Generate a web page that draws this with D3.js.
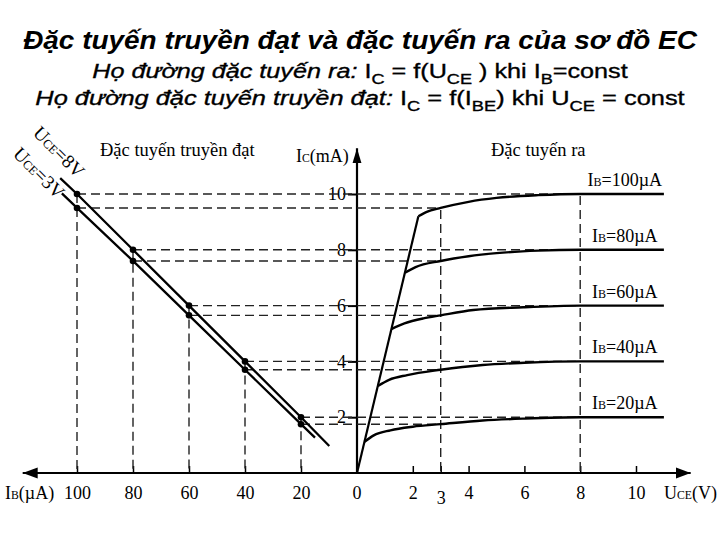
<!DOCTYPE html>
<html><head><meta charset="utf-8">
<script src="https://cdn.jsdelivr.net/npm/d3@7"></script>
<style>
body{margin:0;background:#fff;}
svg{display:block;}
</style></head>
<body>
<svg id="c" width="720" height="540"></svg>
<script>
// ---------- data ----------
const ibTicks = [100, 80, 60, 40, 20];
const uceTicks = [0, 2, 3, 4, 6, 8, 10];
const icTicks = [2, 4, 6, 8, 10];

// transfer characteristic points (IB µA -> IC mA)
const ibPoints = [100, 80, 60, 40, 20];
const icAt8V = [10, 8, 6, 4, 2];
const icAt3V = [9.5, 7.6, 5.65, 3.7, 1.75];
// extended ends of the transfer lines
const line8V = [[106, 10.57], [100, 10], [80, 8], [60, 6], [40, 4], [20, 2], [9.9, 0.97]];
const line3V = [[105.4, 10.02], [100, 9.5], [80, 7.6], [60, 5.65], [40, 3.7], [20, 1.75], [15, 1.27]];

// output characteristics (UCE V -> IC mA)
const saturation = [[0, 0], [2.2, 9.2]];
const outIB100 = [[2.2, 9.2], [2.5, 9.36], [3, 9.5], [4, 9.72], [5, 9.86], [6.5, 9.96], [8, 10], [11, 10]];
const outIB80 = [[1.72, 7.18], [2.1, 7.38], [3, 7.6], [4, 7.77], [5, 7.88], [6.5, 7.97], [8, 8], [11, 8]];
const outIB60 = [[1.23, 5.16], [1.7, 5.36], [2.38, 5.54], [3, 5.65], [4.17, 5.84], [5.96, 5.94], [8, 6], [11, 6]];
const outIB40 = [[0.75, 3.12], [1.15, 3.34], [1.8, 3.51], [3, 3.7], [4.5, 3.87], [6, 3.95], [8, 4], [11, 4]];
const outIB20 = [[0.27, 1.12], [0.6, 1.35], [1.2, 1.53], [2, 1.66], [3, 1.75], [4.5, 1.88], [6, 1.95], [8, 2], [11, 2]];
const outCurves = [outIB100, outIB80, outIB60, outIB40, outIB20];
const outLabels = ["100", "80", "60", "40", "20"];
const outFlat = [10, 8, 6, 4, 2];

// ---------- scales ----------
const svg = d3.select("#c");
const xR = d3.scaleLinear().domain([0, 10]).range([357, 636]);
const xL = d3.scaleLinear().domain([0, 100]).range([357, 77]);
const y = d3.scaleLinear().domain([0, 10]).range([473, 194]);

const serif = "'Liberation Serif','Times New Roman',serif";
const sans = "'Liberation Sans',Arial,sans-serif";

// ---------- titles ----------
function fitWidth(t, left, right) {
  const bb = t.node().getBBox();
  const s = (right - left) / bb.width;
  const cx = (left + right) / 2;
  t.attr("transform", `translate(${cx},0) scale(${s},1) translate(${-cx},0)`);
}
const t1 = svg.append("text").attr("x", 360).attr("y", 49).attr("text-anchor", "middle")
  .attr("font-family", sans).attr("font-weight", "bold").attr("font-style", "italic")
  .attr("font-size", 26.5).text("Đặc tuyến truyền đạt và đặc tuyến ra của sơ đồ EC");
fitWidth(t1, 22, 697);

function subLine(yy, size, parts) {
  const t = svg.append("text").attr("x", 360).attr("y", yy).attr("text-anchor", "middle")
    .attr("font-family", sans).attr("font-size", size)
    .attr("stroke", "#000").attr("stroke-width", 0.35);
  parts.forEach(p => {
    const ts = t.append("tspan").text(p.t);
    if (p.i) ts.attr("font-style", "italic");
    if (p.s) ts.attr("font-size", size * 0.72).attr("dy", size * 0.28);
    if (p.r) ts.attr("dy", -size * 0.28);
  });
  return t;
}
const t2 = subLine(78, 21, [
  {t: "Họ đường đặc tuyến ra: ", i: true}, {t: "I"}, {t: "C", s: true}, {t: " = f(U", r: true},
  {t: "CE", s: true}, {t: " ) khi I", r: true}, {t: "B", s: true}, {t: "=const", r: true}
]);
fitWidth(t2, 92, 628);
const t3 = subLine(105, 21, [
  {t: "Họ đường đặc tuyến truyền đạt: ", i: true}, {t: "I"}, {t: "C", s: true}, {t: " = f(I", r: true},
  {t: "BE", s: true}, {t: ") khi U", r: true}, {t: "CE", s: true}, {t: " = const", r: true}
]);
fitWidth(t3, 35, 685);

// ---------- arrows ----------
const defs = svg.append("defs");
defs.append("marker").attr("id", "arrH").attr("markerUnits", "userSpaceOnUse")
  .attr("viewBox", "0 -6 16 12").attr("refX", 15).attr("refY", 0)
  .attr("markerWidth", 16).attr("markerHeight", 12).attr("orient", "auto-start-reverse")
  .append("path").attr("d", "M0,-5.5L15,0L0,5.5Z").attr("fill", "#000");
defs.append("marker").attr("id", "arrV").attr("markerUnits", "userSpaceOnUse")
  .attr("viewBox", "0 -6 16 12").attr("refX", 15).attr("refY", 0)
  .attr("markerWidth", 16).attr("markerHeight", 12).attr("orient", "auto")
  .append("path").attr("d", "M0,-4.5L15,0L0,4.5Z").attr("fill", "#000");

// ---------- axes ----------
const axisR = d3.axisBottom(xR).tickValues(uceTicks.filter(d => d !== 0)).tickSizeInner(-7).tickSizeOuter(0).tickPadding(13);
const axisL = d3.axisBottom(xL).tickValues(ibTicks).tickSizeInner(-7).tickSizeOuter(0).tickPadding(13);
const gR = svg.append("g").attr("transform", `translate(0,${y(0)})`).call(axisR);
const gL = svg.append("g").attr("transform", `translate(0,${y(0)})`).call(axisL);
[gR, gL].forEach(g => {
  g.select(".domain").remove();
  g.selectAll("line").attr("stroke", "#000").attr("stroke-width", 1.5);
  g.selectAll("text").attr("font-family", serif).attr("font-size", 18).attr("fill", "#000");
});
gR.selectAll(".tick").filter(d => d === 3).select("text").attr("dy", "0.98em");
// zero label
svg.append("text").attr("x", xR(0)).attr("y", y(0) + 26).attr("text-anchor", "middle")
  .attr("font-family", serif).attr("font-size", 18).text("0");

const gY = svg.append("g").attr("transform", `translate(${xR(0)},0)`)
  .call(d3.axisLeft(y).tickValues(icTicks).tickSizeInner(9).tickSizeOuter(0).tickPadding(2));
gY.select(".domain").remove();
gY.selectAll("line").attr("stroke", "#000").attr("stroke-width", 2);
gY.selectAll("text").attr("font-family", serif).attr("font-size", 18).attr("fill", "#000");

// axis lines with arrowheads
svg.append("line").attr("x1", xL(119.4)).attr("x2", xR(11.96)).attr("y1", y(0)).attr("y2", y(0))
  .attr("stroke", "#000").attr("stroke-width", 2.2)
  .attr("marker-start", "url(#arrH)").attr("marker-end", "url(#arrH)");
svg.append("line").attr("x1", xR(0)).attr("x2", xR(0)).attr("y1", y(0)).attr("y2", y(11.64))
  .attr("stroke", "#000").attr("stroke-width", 2.2).attr("marker-end", "url(#arrV)");

// ---------- dashed guides ----------
const dash = svg.append("g").attr("stroke", "#222").attr("stroke-width", 1.4)
  .attr("stroke-dasharray", "9,5").attr("fill", "none");
ibPoints.forEach((ib, i) => {
  dash.append("line").attr("x1", xL(ib)).attr("x2", xR(8)).attr("y1", y(icAt8V[i])).attr("y2", y(icAt8V[i]));
  dash.append("line").attr("x1", xL(ib)).attr("x2", xR(3)).attr("y1", y(icAt3V[i])).attr("y2", y(icAt3V[i]));
  dash.append("line").attr("x1", xL(ib)).attr("x2", xL(ib)).attr("y1", y(icAt8V[i])).attr("y2", y(0));
});
dash.append("line").attr("x1", xR(3)).attr("x2", xR(3)).attr("y1", y(icAt3V[0]) + 2).attr("y2", y(0));
dash.append("line").attr("x1", xR(8)).attr("x2", xR(8)).attr("y1", y(icAt8V[0]) + 2).attr("y2", y(0));

// ---------- transfer lines ----------
const lineL = d3.line().x(d => xL(d[0])).y(d => y(d[1]));
[line8V, line3V].forEach(ln => {
  svg.append("path").attr("d", lineL(ln)).attr("fill", "none").attr("stroke", "#000").attr("stroke-width", 2.3);
});
ibPoints.forEach((ib, i) => {
  svg.append("circle").attr("cx", xL(ib)).attr("cy", y(icAt8V[i])).attr("r", 3.3).attr("fill", "#000");
  svg.append("circle").attr("cx", xL(ib)).attr("cy", y(icAt3V[i])).attr("r", 3.3).attr("fill", "#000");
});

// ---------- output curves ----------
const lineR = d3.line().x(d => xR(d[0])).y(d => y(d[1])).curve(d3.curveMonotoneX);
svg.append("path").attr("d", d3.line().x(d => xR(d[0])).y(d => y(d[1]))(saturation))
  .attr("fill", "none").attr("stroke", "#000").attr("stroke-width", 2.2);
outCurves.forEach((c, i) => {
  svg.append("path").attr("d", lineR(c)).attr("fill", "none").attr("stroke", "#000").attr("stroke-width", 2.4);
  const t = svg.append("text").attr("x", xR(9.6)).attr("y", y(outFlat[i]) - 8).attr("text-anchor", "middle")
    .attr("font-family", serif).attr("font-size", 18);
  t.append("tspan").text("I");
  t.append("tspan").text("B").attr("font-size", 12);
  t.append("tspan").text("=" + outLabels[i] + "µA");
});

// ---------- labels ----------
function serifLabel(x, yy, parts, size, anchor, rot) {
  const t = svg.append("text").attr("font-family", serif).attr("font-size", size)
    .attr("text-anchor", anchor || "start");
  if (rot) t.attr("transform", `translate(${x},${yy}) rotate(${rot})`);
  else t.attr("x", x).attr("y", yy);
  parts.forEach(p => {
    const ts = t.append("tspan").text(p.t);
    if (p.s) ts.attr("font-size", size * 0.65);
  });
  return t;
}
serifLabel(100, 156, [{t: "Đặc tuyến truyền đạt"}], 18.5);
serifLabel(491, 156, [{t: "Đặc tuyến ra"}], 18.5);
serifLabel(296, 162, [{t: "I"}, {t: "C", s: true}, {t: "(mA)"}], 18);
serifLabel(5, 499, [{t: "I"}, {t: "B", s: true}, {t: "(µA)"}], 18);
serifLabel(664, 499, [{t: "U"}, {t: "CE", s: true}, {t: "(V)"}], 18);
serifLabel(32, 134, [{t: "U"}, {t: "CE", s: true}, {t: "=8V"}], 19, "start", 45);
serifLabel(12, 155, [{t: "U"}, {t: "CE", s: true}, {t: "=3V"}], 19, "start", 45);
</script>
</body></html>
